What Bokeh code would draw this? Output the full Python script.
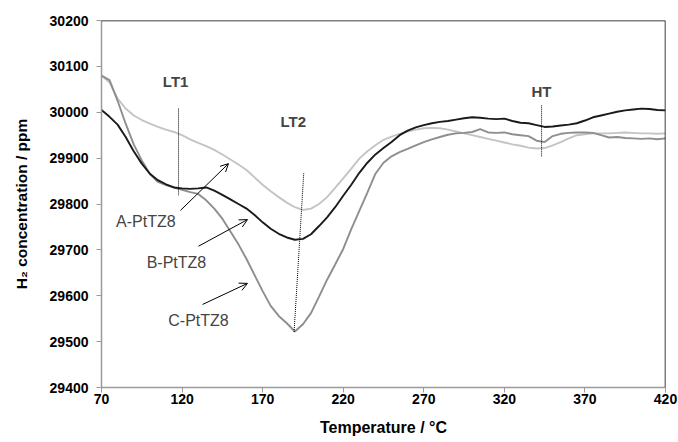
from bokeh.plotting import figure
from bokeh.models import Range1d, Span, Label, Arrow, OpenHead, FixedTicker, ColumnDataSource
from bokeh.embed import file_html
from bokeh.resources import INLINE

temps = list(range(70, 421, 5))

a_ptz8 = [30080, 30065, 30030, 30008, 29993, 29983, 29975, 29968, 29962, 29957,
          29950, 29941, 29933, 29926, 29918, 29908, 29897, 29886, 29874, 29858,
          29842, 29828, 29815, 29803, 29793, 29787, 29790, 29800, 29815, 29835,
          29856, 29877, 29899, 29915, 29928, 29940, 29947, 29953, 29958, 29962,
          29965, 29966, 29965, 29962, 29958, 29954, 29950, 29946, 29942, 29938,
          29934, 29930, 29927, 29923, 29921, 29922, 29928, 29935, 29943, 29950,
          29952, 29954, 29954, 29954, 29955, 29956, 29955, 29954, 29954, 29953,
          29954]

b_ptz8 = [30005, 29990, 29973, 29946, 29915, 29888, 29866, 29852, 29843, 29836,
          29834, 29833, 29834, 29836, 29829, 29820, 29810, 29800, 29790, 29776,
          29760, 29746, 29735, 29727, 29722, 29724, 29734, 29752, 29771, 29793,
          29818, 29842, 29868, 29890, 29908, 29922, 29935, 29950, 29960, 29967,
          29972, 29976, 29979, 29981, 29984, 29987, 29989, 29988, 29986, 29985,
          29986, 29981, 29977, 29976, 29972, 29968, 29969, 29971, 29973, 29976,
          29982, 29989, 29993, 29997, 30001, 30004, 30006, 30008, 30007, 30005,
          30004]

c_ptz8 = [30080, 30070, 30025, 29975, 29930, 29895, 29866, 29848, 29841, 29836,
          29831, 29826, 29822, 29808, 29790, 29768, 29740, 29712, 29680, 29645,
          29610, 29578, 29556, 29540, 29522, 29538, 29562, 29598, 29635, 29668,
          29702, 29745, 29785, 29825, 29866, 29890, 29904, 29913, 29920, 29928,
          29935, 29941, 29946, 29951, 29954, 29955, 29957, 29963, 29956, 29955,
          29956, 29952, 29950, 29948, 29938, 29935, 29948, 29953, 29955, 29956,
          29956, 29955, 29950, 29945, 29946, 29944, 29943, 29942, 29943, 29941,
          29943]

x_ticks = [70, 120, 170, 220, 270, 320, 370, 420]
y_ticks = [29400, 29500, 29600, 29700, 29800, 29900, 30000, 30100, 30200]

# peak markers: (x0, y0, x1, y1)
lt1_line = (117.8, 30008, 117.8, 29819)
lt2_line = (195.5, 29867, 189.5, 29520)
ht_line = (343.1, 30015, 343.1, 29902)

peak_labels = ["LT1", "LT2", "HT"]
peak_label_x = [116, 189, 343]
peak_label_y = [30067, 29980, 30045]

series_names = ["A-PtTZ8", "B-PtTZ8", "C-PtTZ8"]
series_label_x = [97.5, 116.5, 130.2]
series_label_y = [29762, 29673, 29546]
arrow_start = [(119, 29786), (130.2, 29708), (132.7, 29581)]
arrow_end = [(148.8, 29888), (160.6, 29766), (160.6, 29627)]

FONT = "Liberation Sans"

p = figure(width=678, height=442, output_backend="svg", toolbar_location=None,
           x_range=Range1d(70, 420), y_range=Range1d(29400, 30200),
           min_border_left=101, min_border_right=13, min_border_top=20, min_border_bottom=55)
p.background_fill_color = "white"
p.border_fill_color = "white"
p.outline_line_color = None
p.grid.visible = False

for ax in (p.xaxis[0], p.yaxis[0]):
    ax.axis_line_color = "#9a9a9a"
    ax.axis_line_width = 1.5
    ax.major_tick_line_color = "#9a9a9a"
    ax.major_tick_in = 0
    ax.major_tick_out = 5
    ax.minor_tick_line_color = None
    ax.major_label_text_font = FONT
    ax.major_label_text_font_style = "bold"
    ax.major_label_text_font_size = "14px"
    ax.major_label_text_color = "black"
    ax.axis_label_text_font = FONT
    ax.axis_label_text_font_style = "bold"
    ax.axis_label_text_color = "black"

p.xaxis.axis_label_text_font_size = "16px"
p.yaxis.axis_label_text_font_size = "15.5px"
p.xaxis.ticker = FixedTicker(ticks=x_ticks)
p.yaxis.ticker = FixedTicker(ticks=y_ticks)
p.xaxis.axis_label = "Temperature / °C"
p.yaxis.axis_label = "H₂ concentration / ppm"
p.xaxis.major_label_standoff = 1
p.yaxis.major_label_standoff = 8
p.xaxis.axis_label_standoff = 12
p.yaxis.axis_label_standoff = 17

# top/right border of plot area
p.add_layout(Span(location=30200, dimension="width", line_color="black", line_width=1.5))
p.add_layout(Span(location=420, dimension="height", line_color="black", line_width=1.5))

src = ColumnDataSource(dict(t=temps, a=a_ptz8, b=b_ptz8, c=c_ptz8))
p.line("t", "a", source=src, line_color="#c4c4c4", line_width=1.9)
p.line("t", "c", source=src, line_color="#8e8e8e", line_width=1.9)
p.line("t", "b", source=src, line_color="#1a1a1a", line_width=1.9)

for (x0, y0, x1, y1) in (lt1_line, lt2_line, ht_line):
    p.line([x0, x1], [y0, y1], line_color="black", line_width=1, line_dash="1 1")

for txt, lx, ly in zip(peak_labels, peak_label_x, peak_label_y):
    p.add_layout(Label(x=lx, y=ly, text=txt, text_font=FONT, text_font_style="bold",
                       text_font_size="15px", text_align="center", text_baseline="middle"))

for txt, lx, ly in zip(series_names, series_label_x, series_label_y):
    p.add_layout(Label(x=lx, y=ly, text=txt, text_font=FONT,
                       text_font_size="16px", text_align="center", text_baseline="middle"))

for (sx, sy), (ex, ey) in zip(arrow_start, arrow_end):
    p.add_layout(Arrow(end=OpenHead(size=8, line_width=1, line_color="black"),
                       x_start=sx, y_start=sy, x_end=ex, y_end=ey,
                       line_color="black", line_width=1))

open("out.html", "w").write(file_html(p, INLINE))
